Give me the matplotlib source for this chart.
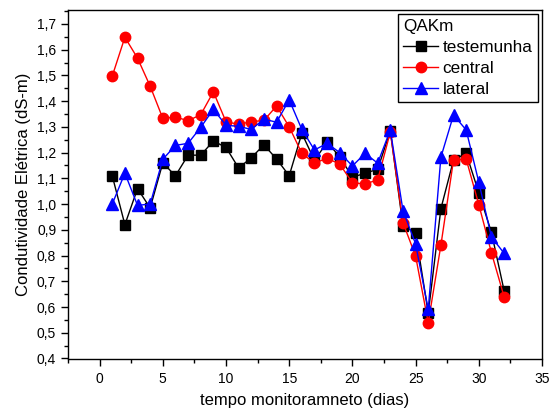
import matplotlib
matplotlib.use('Agg')
import matplotlib.pyplot as plt
from matplotlib.ticker import MultipleLocator, FuncFormatter

plt.rcParams['font.family'] = ['Liberation Sans', 'DejaVu Sans']
plt.rcParams['font.size'] = 10

dias = list(range(1, 33))

testemunha = [1.11, 0.92, 1.06, 0.985, 1.16, 1.11, 1.19, 1.19, 1.245, 1.22,
              1.14, 1.18, 1.23, 1.175, 1.11, 1.275, 1.17, 1.24, 1.184, 1.104,
              1.12, 1.135, 1.285, 0.915, 0.889, 0.576, 0.982, 1.171, 1.197, 1.044,
              0.89, 0.664]
central = [1.497, 1.648, 1.567, 1.458, 1.333, 1.338, 1.324, 1.347, 1.436, 1.32,
           1.31, 1.32, 1.325, 1.381, 1.30, 1.197, 1.159, 1.178, 1.155, 1.083,
           1.078, 1.094, 1.28, 0.928, 0.798, 0.539, 0.84, 1.171, 1.175, 0.998,
           0.811, 0.64]
lateral = [1.0, 1.12, 0.995, 1.0, 1.174, 1.228, 1.236, 1.298, 1.368, 1.306,
           1.302, 1.29, 1.33, 1.318, 1.405, 1.29, 1.21, 1.236, 1.2, 1.148,
           1.197, 1.159, 1.288, 0.975, 0.845, 0.591, 1.182, 1.346, 1.288, 1.085,
           0.872, 0.809]

fig = plt.figure(figsize=(5.49, 4.11), dpi=100)
ax = fig.add_axes([68/549, 1 - 358.5/411, (542 - 68)/549, (358.5 - 10)/411])

ax.plot(dias, testemunha, color='black', marker='s', markersize=6.5, lw=1, label='testemunha')
ax.plot(dias, central, color='red', marker='o', markersize=7.5, lw=1, label='central')
ax.plot(dias, lateral, color='blue', marker='^', markersize=8, lw=1, label='lateral')

ax.set_xlim(-2.5, 35)
ax.set_ylim(0.4, 1.754)
ax.xaxis.set_major_locator(MultipleLocator(5))
ax.xaxis.set_minor_locator(MultipleLocator(2.5))
ax.yaxis.set_major_locator(MultipleLocator(0.1))
ax.yaxis.set_minor_locator(MultipleLocator(0.05))
ax.yaxis.set_major_formatter(FuncFormatter(lambda v, p: f'{v:.1f}'.replace('.', ',')))
ax.tick_params(which='major', direction='out', length=5, width=1, labelsize=10)
ax.tick_params(axis='x', which='major', pad=5)
ax.tick_params(which='minor', direction='out', length=3, width=1)
for s in ax.spines.values():
    s.set_linewidth(1)

ax.set_xlabel('tempo monitoramneto (dias)', fontsize=12, labelpad=5)
ax.set_ylabel('Condutividade Elétrica (dS-m)', fontsize=12)

leg = ax.legend(title='QAKm', loc='upper right', fontsize=12.3, title_fontsize=12.3,
                fancybox=False, edgecolor='black', framealpha=1,
                borderpad=0.3, labelspacing=0.34, handlelength=2.0,
                handletextpad=0.3, borderaxespad=0.25)
leg._legend_box.align = 'left'
leg.get_frame().set_linewidth(1)

fig.savefig('out.png', dpi=100)
